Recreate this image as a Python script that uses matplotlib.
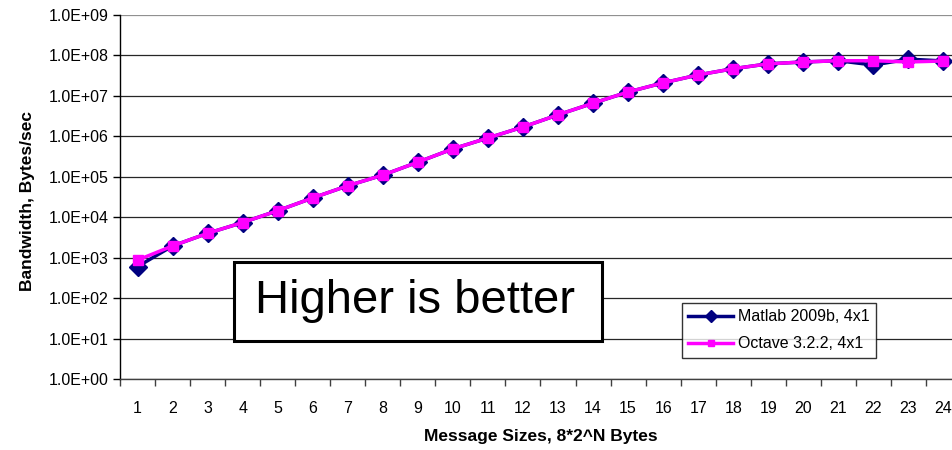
import matplotlib
matplotlib.use("Agg")
import matplotlib.pyplot as plt
from matplotlib.patches import Rectangle
import numpy as np

plt.rcParams['font.family'] = ['Liberation Sans', 'DejaVu Sans']

categories = list(range(1, 25))
matlab = [600, 1950, 4000, 7400, 14500, 30000, 60000, 110000, 230000, 490000,
          910000, 1.7e6, 3.4e6, 6.6e6, 1.25e7, 2.1e7, 3.3e7, 4.7e7, 6.2e7, 6.9e7,
          7.4e7, 5.8e7, 8.1e7, 7.3e7]
octave = [870, 1950, 4000, 7400, 14500, 30000, 60000, 110000, 230000, 490000,
          910000, 1.7e6, 3.4e6, 6.6e6, 1.25e7, 2.1e7, 3.3e7, 4.7e7, 6.2e7, 6.9e7,
          7.4e7, 7.4e7, 6.9e7, 7.3e7]
ytick_labels = ["1.0E+00", "1.0E+01", "1.0E+02", "1.0E+03", "1.0E+04",
                "1.0E+05", "1.0E+06", "1.0E+07", "1.0E+08", "1.0E+09"]

W, H = 953, 450
fig = plt.figure(figsize=(W / 100, H / 100), dpi=100)
L, R, T, B = 120, 961, 15, 379
ax = fig.add_axes([L / W, 1 - B / H, (R - L) / W, (B - T) / H])

ax.set_yscale('log')
ax.set_ylim(1, 1e9)
ax.set_xlim(0.5, 24.5)

yt = [10.0 ** i for i in range(10)]
ax.set_yticks(yt)
ax.set_yticklabels(ytick_labels, fontsize=11.5)
ax.yaxis.set_minor_locator(matplotlib.ticker.NullLocator())
for y in yt:
    ax.axhline(y, color='#909090' if y == 1e9 else '#262626', lw=0.9, zorder=0)

ax.set_xticks(categories)
ax.set_xticklabels([str(c) for c in categories], fontsize=11.5)
ax.set_xticks(np.arange(0.5, 25, 1), minor=True)
ax.tick_params(axis='x', which='major', length=0, pad=16)
ax.tick_params(axis='x', which='minor', length=5, width=1, color='#404040', direction='out')
ax.tick_params(axis='y', which='major', length=5, width=1, direction='out', pad=3)

for s in ['top', 'right']:
    ax.spines[s].set_visible(False)
ax.spines['left'].set_color('black')
ax.spines['left'].set_linewidth(1)
ax.spines['bottom'].set_color('#404040')
ax.spines['bottom'].set_linewidth(1)

ax.plot(categories, matlab, color='#000080', lw=2.5, marker='D', markersize=9,
        markerfacecolor='#000080', markeredgecolor='#000080', label='Matlab 2009b, 4x1',
        zorder=3, clip_on=False)
ax.plot(categories, octave, color='#FF00FF', lw=2.5, marker='s', markersize=7,
        markerfacecolor='#FF00FF', markeredgecolor='#FF00FF', label='Octave 3.2.2, 4x1',
        zorder=4, clip_on=False)

ax.set_ylabel('Bandwidth, Bytes/sec', fontsize=12.5, fontweight='bold')
ax.yaxis.set_label_coords(-(120 - 28) / (R - L), (B - 201) / (B - T))
ax.set_xlabel('Message Sizes, 8*2^N Bytes', fontsize=12.5, fontweight='bold')
ax.xaxis.set_label_coords(0.5, -(437 - B) / (B - T))
ax.xaxis.label.set_va('center')
ax.yaxis.label.set_va('center')

leg = fig.legend(loc='upper left', bbox_to_anchor=(682 / W, 1 - 303 / H), fontsize=11.5,
                 frameon=True, fancybox=False, edgecolor='black', borderaxespad=0,
                 handlelength=2.8, handletextpad=0.3, markerscale=0.7, borderpad=0.4,
                 labelspacing=0.75)
leg.get_frame().set_linewidth(1)

fig.patches.append(Rectangle((234 / W, 1 - 341 / H), (602 - 234) / W, (341 - 262) / H,
                             transform=fig.transFigure, facecolor='white',
                             edgecolor='black', lw=2.2, zorder=5))
fig.text(415 / W, 1 - 301 / H, 'Higher is better', fontsize=34, ha='center', va='center',
         zorder=6)

fig.savefig('out.png', dpi=100)
